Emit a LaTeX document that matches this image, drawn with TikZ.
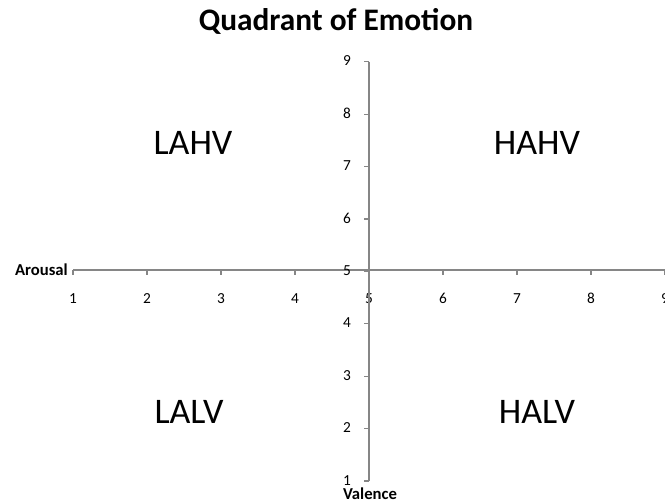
\documentclass[tikz,border=0pt]{standalone}
\usepackage{fontspec}
\setmainfont{Carlito}
\definecolor{axisgray}{HTML}{868686}

\begin{document}
\begin{tikzpicture}[x=0.75pt,y=-0.75pt,
    axis/.style={draw=axisgray,line width=0.9pt},
    ticklabel/.style={font=\fontsize{11.5}{13}\selectfont,inner sep=0pt,anchor=base},
    quadlabel/.style={font=\fontsize{27}{32}\selectfont,inner sep=0pt},
    axislabel/.style={font=\bfseries\fontsize{12.5}{15}\selectfont,inner sep=0pt}]
  \useasboundingbox (0,0) rectangle (665,504);
  \clip (0,0) rectangle (665,504);
  \def\Xo{73}    % x of value 1 on the horizontal axis
  \def\Xu{74}    % px per unit, horizontal
  \def\Yo{481}   % y of value 1 on the vertical axis
  \def\Yu{52.4}  % px per unit, vertical
  \def\Xm{369}   % vertical axis
  \def\Ym{270}   % horizontal axis

  % title
  \node[font=\bfseries\fontsize{23.5}{28}\selectfont,inner sep=0pt] (title) at (336,21) {Quadrant of Emotion};

  % horizontal axis (arousal)
  \draw[axis] (\Xo,\Ym) -- (665,\Ym);
  \foreach \i in {1,...,9} {
    \draw[axis] ({\Xo+(\i-1)*\Xu},\Ym) -- ++(0,5);
    \node[ticklabel] (hx\i) at ({\Xo+(\i-1)*\Xu},303) {\i};
  }
  \node[axislabel,anchor=east] (arousal) at (68,270) {Arousal};

  % vertical axis (valence)
  \draw[axis] (\Xm,{\Yo-8*\Yu}) -- (\Xm,\Yo);
  \foreach \i in {1,...,9} {
    \draw[axis] (\Xm,{\Yo-(\i-1)*\Yu}) -- ++(-5,0);
    \node[ticklabel] (vy\i) at (347,{\Yo-(\i-1)*\Yu+4}) {\i};
  }
  \node[axislabel,anchor=base] (valence) at (370,499) {Valence};

  % quadrants
  \node[quadlabel] (lahv) at (193,143) {LAHV};
  \node[quadlabel] (hahv) at (537,143) {HAHV};
  \node[quadlabel] (lalv) at (189,412) {LALV};
  \node[quadlabel] (halv) at (537,412) {HALV};
\end{tikzpicture}
\end{document}
